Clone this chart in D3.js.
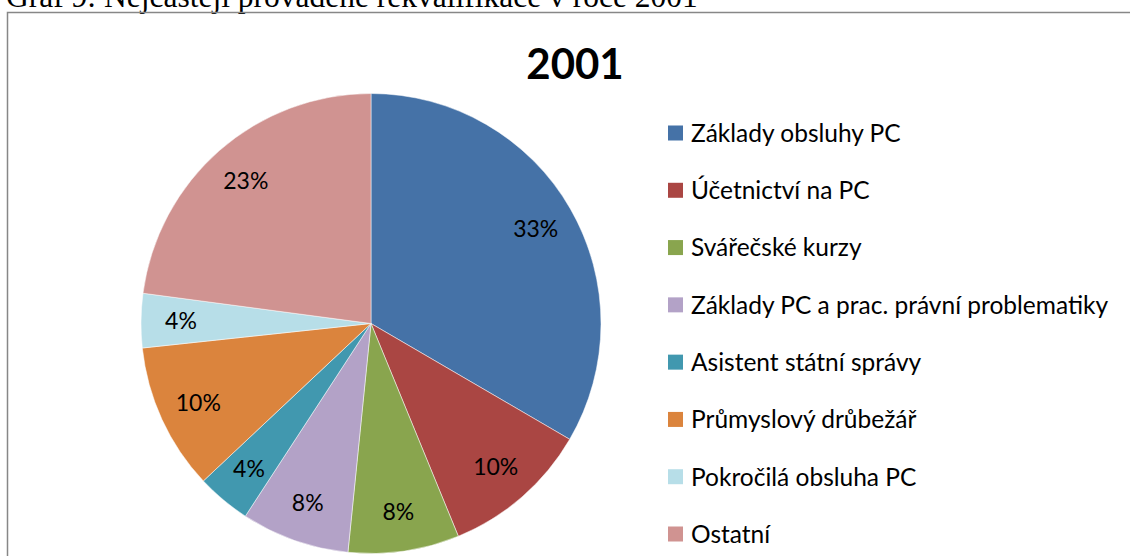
<!DOCTYPE html>
<html>
<head>
<meta charset="utf-8">
<script src="https://cdn.jsdelivr.net/npm/d3@7"></script>
<style>
  body { margin: 0; background: #fff; }
  svg { display: block; }
</style>
</head>
<body>
<script>
const categories = [
  "Základy obsluhy PC",
  "Účetnictví na PC",
  "Svářečské kurzy",
  "Základy PC a prac. právní problematiky",
  "Asistent státní správy",
  "Průmyslový drůbežář",
  "Pokročilá obsluha PC",
  "Ostatní"
];
// shares in percent
const values = [33.4, 10.4, 7.8, 7.6, 3.8, 10.3, 3.8, 22.9];
const colors = ["#4572A7", "#AA4643", "#89A54E", "#B3A2C7", "#4198AF", "#DB843D", "#B7DEE8", "#D09391"];
const chartTitle = "2001";
const caption = "Graf 9: Nejčastěji prováděné rekvalifikace v roce 2001";

const w = 1130, h = 556;
const svg = d3.select("body").append("svg")
  .attr("width", w)
  .attr("height", h);

// caption above the chart frame (cut off by the top edge, as in the page scan)
svg.append("text")
  .attr("x", 6)
  .attr("y", 7)
  .style("font-family", "'Liberation Serif', 'Times New Roman', serif")
  .style("font-size", "31.5px")
  .attr("fill", "#000")
  .text(caption);

// chart frame
svg.append("rect")
  .attr("x", 7.5).attr("y", 12.5)
  .attr("width", 1200).attr("height", 600)
  .attr("fill", "none")
  .attr("stroke", "#878787")
  .attr("stroke-width", 1.5);

svg.append("text")
  .attr("x", 575)
  .attr("y", 79)
  .attr("text-anchor", "middle")
  .style("font-family", "Lato, sans-serif")
  .style("font-weight", "bold")
  .style("font-size", "42px")
  .text(chartTitle);

const cx = 371, cy = 323.5, R = 230;
const g = svg.append("g").attr("transform", `translate(${cx},${cy})`);

const pie = d3.pie().sort(null).value(d => d);
const arcs = pie(values);
const total = d3.sum(values);
const arc = d3.arc().innerRadius(0).outerRadius(R);
const labelArc = d3.arc().innerRadius(190).outerRadius(190);
const fmt = d3.format(".0%");

g.selectAll("path.slice").data(arcs)
  .join("path")
  .attr("class", "slice")
  .attr("d", arc)
  .attr("fill", (d, i) => colors[i])
  .attr("stroke", "#fff")
  .attr("stroke-width", 0.5);

g.selectAll("text.lbl").data(arcs)
  .join("text")
  .attr("class", "lbl")
  .attr("transform", d => `translate(${labelArc.centroid(d)})`)
  .attr("text-anchor", "middle")
  .attr("dy", "0.35em")
  .style("font-family", "Lato, sans-serif")
  .style("font-size", "23px")
  .attr("fill", "#000")
  .text(d => fmt(d.data / total));

// legend
const ly = d3.scalePoint().domain(categories).range([133, 534]);
const leg = svg.selectAll("g.leg").data(categories)
  .join("g")
  .attr("class", "leg")
  .attr("transform", d => `translate(668,${ly(d)})`);
leg.append("rect")
  .attr("x", 0).attr("y", -7.5)
  .attr("width", 15).attr("height", 15)
  .attr("fill", (d, i) => colors[i]);
leg.append("text")
  .attr("x", 23)
  .attr("dy", "0.36em")
  .style("font-family", "Lato, sans-serif")
  .style("font-size", "24.5px")
  .attr("fill", "#000")
  .text(d => d);
</script>
</body>
</html>
